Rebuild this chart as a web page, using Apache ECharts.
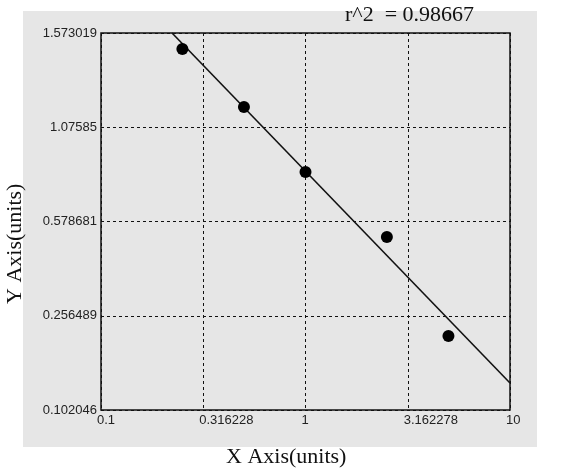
<!DOCTYPE html>
<html>
<head>
<meta charset="utf-8">
<script src="https://cdn.jsdelivr.net/npm/echarts@6/dist/echarts.min.js"></script>
<style>html,body{margin:0;padding:0;background:#fff}#c{width:571px;height:473px}</style>
</head>
<body>
<div id="c"></div>
<script>
// Data (x in concentration units, y in axis-position units 0..4)
var pointsX = [0.25, 0.5, 1, 2.5, 5];
var pointsY = [3.83, 3.215, 2.525, 1.836, 0.785];
var fitX = [0.2225, 10];
var fitY = [4.0, 0.286];
var xTickLabels = ['0.1', '0.316228', '1', '3.162278', '10'];
var yTickLabels = ['0.102046', '0.256489', '0.578681', '1.07585', '1.573019'];
var r2Text = 'r^2  = 0.98667';

var chart = echarts.init(document.getElementById('c'));
var scatterData = pointsX.map(function (x, i) { return [x, pointsY[i]]; });
var fitData = fitX.map(function (x, i) { return [x, fitY[i]]; });
var gridLine = { show: true, lineStyle: { color: '#111', width: 1, type: [3, 3] } };

chart.setOption({
  animation: false,
  backgroundColor: '#fff',
  graphic: [
    { type: 'rect', shape: { x: 23, y: 11, width: 514, height: 436 }, style: { fill: '#e6e6e6' }, z: -10 },
    { type: 'text', left: 345, top: 4, style: { text: r2Text, font: '22px "Liberation Serif"', fill: '#111' } },
    { type: 'text', left: 226, top: 446, style: { text: 'X Axis(units)', font: '22px "Liberation Serif"', fill: '#111' } },
    { type: 'text', x: 4, y: 304, rotation: Math.PI / 2, style: { text: 'Y Axis(units)', font: '22px "Liberation Serif"', fill: '#111' } }
  ],
  grid: { left: 101, top: 33, width: 409, height: 377, show: true, borderColor: '#111', borderWidth: 1.5, backgroundColor: 'transparent' },
  xAxis: {
    type: 'log', logBase: 10, min: 0.1, max: 10, interval: 0.5,
    axisLine: { show: false }, axisTick: { show: false },
    splitLine: gridLine,
    axisLabel: {
      align: 'left', margin: 4, padding: [0, 0, 0, -4], fontFamily: 'Liberation Sans', fontSize: 13, color: '#222',
      showMinLabel: true, showMaxLabel: true,
      formatter: function (v) { var i = Math.round(Math.log10(v) * 2) + 2; return xTickLabels[i] || ''; }
    }
  },
  yAxis: {
    type: 'value', min: 0, max: 4, interval: 1,
    axisLine: { show: false }, axisTick: { show: false },
    splitLine: gridLine,
    axisLabel: {
      margin: 4, fontFamily: 'Liberation Sans', fontSize: 13, color: '#222',
      formatter: function (v) { return yTickLabels[Math.round(v)] || ''; }
    }
  },
  series: [
    { type: 'line', data: fitData, showSymbol: false, symbol: 'none', lineStyle: { color: '#111', width: 1.6 }, clip: true, z: 3 },
    { type: 'scatter', data: scatterData, symbolSize: 12, itemStyle: { color: '#000', opacity: 1 }, z: 4 }
  ]
});
</script>
</body>
</html>
